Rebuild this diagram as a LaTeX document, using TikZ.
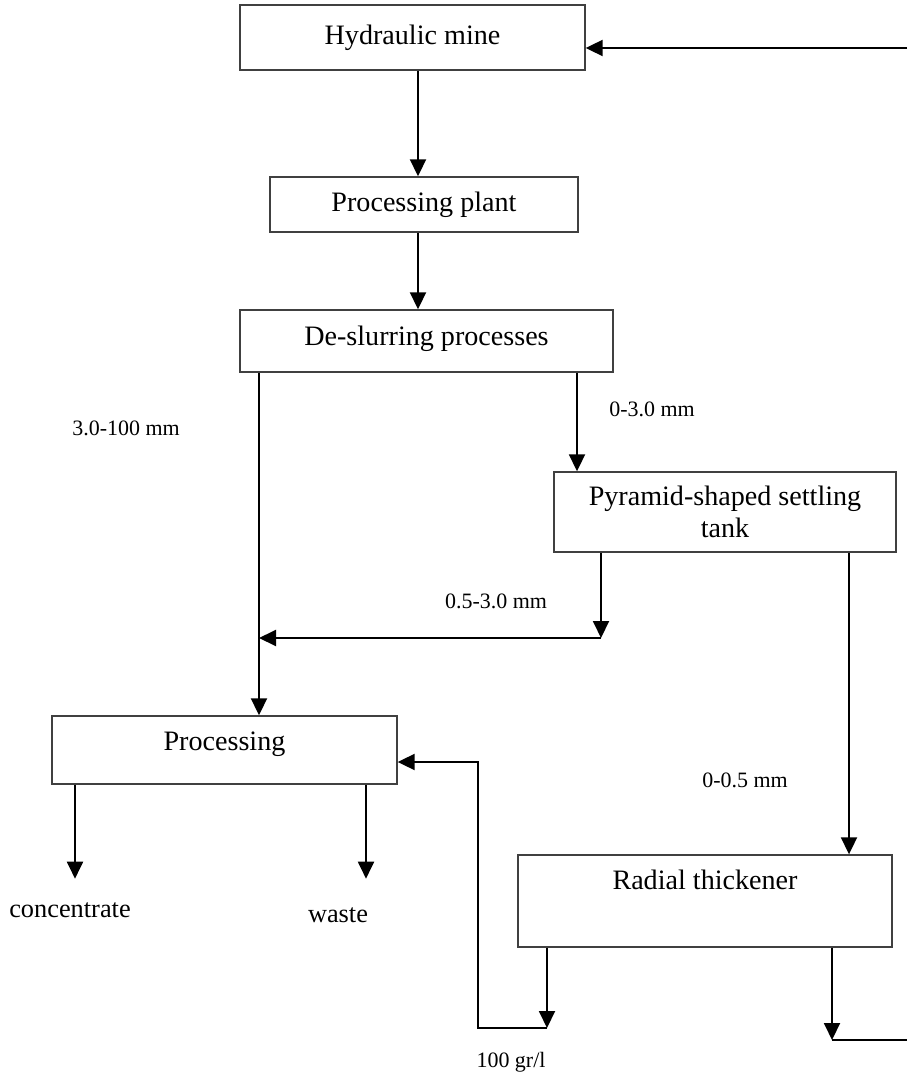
\documentclass[tikz,border=0pt]{standalone}
\usepackage{fontspec}
\setmainfont{Liberation Serif}
\usetikzlibrary{arrows.meta}

\tikzset{
  box/.style={draw=black!75, line width=0.8pt, inner sep=2pt, align=center,
              font=\fontsize{16}{18}\selectfont},
  flow/.style={line width=1.1pt, -{Triangle[length=0.34cm, width=0.32cm]}},
  pipe/.style={line width=1.1pt},
  size/.style={font=\fontsize{12.5}{14}\selectfont},
  product/.style={font=\fontsize{15}{17}\selectfont},
}

\begin{document}
\begin{tikzpicture}[x=0.02cm, y=-0.02cm]
            \useasboundingbox (0,0) rectangle (907,1077);

            %% boxes
            \node [box, minimum width=6.9cm, minimum height=1.3cm] (mine) at (412.5,37.5) {Hydraulic mine};
            \node [box, minimum width=6.16cm, minimum height=1.1cm] (plant) at (424,204.5) {Processing plant};
            \node [box, minimum width=7.46cm, minimum height=1.24cm, text depth=6pt] (deslur) at (426.5,341) {De-slurring processes};
            \node [box, minimum width=6.84cm, minimum height=1.6cm] (tank) at (725,512) {Pyramid-shaped settling\\ tank};
            \node [box, minimum width=6.9cm, minimum height=1.36cm, text depth=10pt] (proc) at (224.5,750) {Processing};
            \node [box, minimum width=7.48cm, minimum height=1.84cm, text depth=24pt] (thick) at (705,901) {Radial thickener};

            %% columns and rows of the lines
            \coordinate (xa) at (418,0);
            \coordinate (xl) at (259,0);
            \coordinate (xm) at (577,0);
            \coordinate (xs) at (601,0);
            \coordinate (xt) at (849,0);
            \coordinate (xc) at (75,0);
            \coordinate (xw) at (366,0);
            \coordinate (xo) at (547,0);
            \coordinate (xb) at (478,0);
            \coordinate (xr) at (832,0);
            \coordinate (ym) at (0,638);
            \coordinate (yp) at (0,762);
            \coordinate (yb) at (0,1028);
            \coordinate (rt) at (907,48);
            \coordinate (rb) at (907,1040);

            %% main line
            \draw [flow] (mine.south -| xa) -- (plant.north -| xa);
            \draw [flow] (plant.south -| xa) -- (deslur.north -| xa);
            \draw [flow] (deslur.south -| xl) -- (proc.north -| xl);
            \draw [flow] (deslur.south -| xm) -- (tank.north -| xm);
            \draw [flow] (tank.south -| xs) -- (xs |- ym);
            \draw [flow] (xs |- ym) -- (xl |- ym);
            \draw [flow] (tank.south -| xt) -- (thick.north -| xt);

            %% products
            \draw [flow] (proc.south -| xc) -- ++(0,94);
            \draw [flow] (proc.south -| xw) -- ++(0,94);

            %% thickener outlets
            \draw [flow] (thick.south -| xo) -- (xo |- yb);
            \draw [flow] (xo |- yb) -- (xb |- yb) -- (xb |- yp) -- (proc.east |- yp);
            \draw [flow] (thick.south -| xr) -- (xr |- rb);
            \draw [pipe] (xr |- rb) -- (rb);
            \draw [flow] (rt) -- (rt -| mine.east);

            %% size fractions
            \node [size] (s1) at (126,428) {3.0-100 mm};
            \node [size] (s2) at (652,409) {0-3.0 mm};
            \node [size] (s3) at (496,601) {0.5-3.0 mm};
            \node [size] (s4) at (745,780) {0-0.5 mm};
            \node [product] (conc) at (70,910) {concentrate};
            \node [product] (waste) at (338,915) {waste};
            \node [size] (water) at (511,1062) {100 gr/l};
\end{tikzpicture}
\end{document}
